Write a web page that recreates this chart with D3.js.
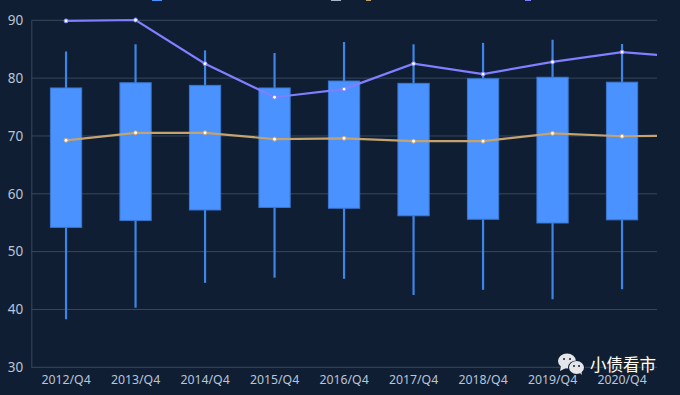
<!DOCTYPE html>
<html>
<head>
<meta charset="utf-8">
<script src="https://cdn.jsdelivr.net/npm/d3@7.9.0/dist/d3.min.js"></script>
<style>
  html, body { margin: 0; padding: 0; background: #0f1e33; }
  svg { display: block; }
  text { font-family: "Noto Sans", sans-serif; }
</style>
</head>
<body>
<div id="chart"></div>
<script>
// last entry is off the right edge, only there so the lines run out of the plot
const quarters = ['2012/Q4', '2013/Q4', '2014/Q4', '2015/Q4', '2016/Q4', '2017/Q4', '2018/Q4', '2019/Q4', '2020/Q4', '2021/Q4'];
const yTicks = [30, 40, 50, 60, 70, 80, 90];

const whiskerHigh = [84.6, 85.85, 84.8, 84.35, 86.25, 85.85, 86.1, 86.65, 85.9];
const boxHigh = [78.3, 79.2, 78.75, 78.3, 79.5, 79.1, 79.9, 80.15, 79.3];
const boxLow = [54.2, 55.4, 57.2, 57.65, 57.5, 56.2, 55.6, 54.95, 55.5];
const whiskerLow = [38.3, 40.3, 44.6, 45.5, 45.3, 42.5, 43.4, 41.75, 43.5];

const purpleLine = [89.9, 90.05, 82.5, 76.7, 78.1, 82.5, 80.7, 82.8, 84.5, 83.55];
const orangeLine = [69.25, 70.55, 70.55, 69.45, 69.6, 69.1, 69.1, 70.45, 69.95, 70.05];

const width = 680;
const height = 395;
const plot = { left: 31.3, right: 657, top: 20.3, bottom: 367.3 };

const svg = d3.select('#chart')
  .append('svg')
  .attr('width', width)
  .attr('height', height);

const xScale = d3.scaleBand()
  .domain(quarters)
  .range([plot.left, plot.left + 695]);

const yScale = d3.scaleLinear()
  .domain([30, 90])
  .range([plot.bottom, plot.top]);

const xMid = (d) => xScale(d) + xScale.bandwidth() / 2;

svg.append('clipPath')
  .attr('id', 'plot-clip')
  .append('rect')
  .attr('x', plot.left)
  .attr('y', 0)
  .attr('width', plot.right - plot.left)
  .attr('height', height);

// gridlines
svg.append('g')
  .selectAll('line')
  .data(yTicks)
  .join('line')
  .attr('x1', plot.left)
  .attr('x2', plot.right)
  .attr('y1', (d) => yScale(d))
  .attr('y2', (d) => yScale(d))
  .attr('stroke', '#3a475c')
  .attr('stroke-width', 1);

// y axis
const yAxis = d3.axisLeft(yScale).tickValues(yTicks).tickSize(0).tickPadding(8);
const yG = svg.append('g')
  .attr('transform', `translate(${plot.left}, 0)`)
  .call(yAxis);
yG.select('.domain').attr('stroke', '#3a475c');
yG.selectAll('text').attr('fill', '#b9c5d9').attr('font-size', 13.5);

// x axis
const xAxis = d3.axisBottom(xScale).tickValues(quarters.slice(0, 9)).tickSize(0).tickPadding(7.5);
const xG = svg.append('g')
  .attr('transform', `translate(0, ${plot.bottom})`)
  .call(xAxis);
xG.select('.domain').remove();
xG.selectAll('text').attr('fill', '#b9c5d9').attr('font-size', 12.3);

// boxes
const boxes = quarters.slice(0, 9).map((q, i) => ({
  q,
  whiskerHigh: whiskerHigh[i],
  boxHigh: boxHigh[i],
  boxLow: boxLow[i],
  whiskerLow: whiskerLow[i],
}));
const boxWidth = xScale.bandwidth() * 0.45;

const boxG = svg.append('g').selectAll('g').data(boxes).join('g');

boxG.append('line')
  .attr('x1', (d) => xMid(d.q))
  .attr('x2', (d) => xMid(d.q))
  .attr('y1', (d) => yScale(d.whiskerHigh))
  .attr('y2', (d) => yScale(d.whiskerLow))
  .attr('stroke', '#3f85e6')
  .attr('stroke-width', 2.2);

boxG.append('rect')
  .attr('x', (d) => xMid(d.q) - boxWidth / 2)
  .attr('width', boxWidth)
  .attr('y', (d) => yScale(d.boxHigh))
  .attr('height', (d) => yScale(d.boxLow) - yScale(d.boxHigh))
  .attr('fill', '#4992ff')
  .attr('stroke', '#3a78d0')
  .attr('stroke-width', 1);

// lines, clipped at the right edge of the plot
const lineGen = d3.line()
  .x((d, i) => xMid(quarters[i]))
  .y((d) => yScale(d));

function drawSeries(values, color) {
  svg.append('path')
    .attr('clip-path', 'url(#plot-clip)')
    .attr('d', lineGen(values))
    .attr('fill', 'none')
    .attr('stroke', color)
    .attr('stroke-width', 2.2);

  svg.append('g')
    .selectAll('circle')
    .data(values.slice(0, 9))
    .join('circle')
    .attr('cx', (d, i) => xMid(quarters[i]))
    .attr('cy', (d) => yScale(d))
    .attr('r', 2)
    .attr('fill', '#ffffff')
    .attr('stroke', color)
    .attr('stroke-width', 1);
}

drawSeries(orangeLine, '#c5a36f');
drawSeries(purpleLine, '#7f7fff');

// legend got cut off at the top of the picture, only the bottom pixel shows
const legendScraps = [
  { x: 152, w: 10, color: '#4992ff' },
  { x: 331, w: 10, color: '#a9b4c8' },
  { x: 366, w: 5, color: '#c5a36f' },
  { x: 525, w: 6, color: '#7f7fff' },
];
svg.append('g')
  .selectAll('rect')
  .data(legendScraps)
  .join('rect')
  .attr('x', (d) => d.x)
  .attr('y', 0)
  .attr('width', (d) => d.w)
  .attr('height', 1)
  .attr('fill', (d) => d.color);

// watermark
const mark = svg.append('g');
mark.append('ellipse').attr('cx', 567).attr('cy', 361).attr('rx', 9).attr('ry', 7.5).attr('fill', '#e4e6ea');
mark.append('path').attr('d', 'M561 366 L560 371 L566 368 Z').attr('fill', '#e4e6ea');
mark.append('ellipse').attr('cx', 576.5).attr('cy', 367.5).attr('rx', 8.5).attr('ry', 7).attr('fill', '#0f1e33');
mark.append('ellipse').attr('cx', 576.5).attr('cy', 367.5).attr('rx', 7.5).attr('ry', 6.5).attr('fill', '#e4e6ea');
mark.append('path').attr('d', 'M579 372 L582 375 L581 370 Z').attr('fill', '#e4e6ea');
[[564, 359], [570, 359], [574, 366], [579, 366]].forEach(([cx, cy]) => {
  mark.append('circle').attr('cx', cx).attr('cy', cy).attr('r', 1).attr('fill', '#0f1e33');
});
mark.append('text')
  .attr('x', 590)
  .attr('y', 371)
  .attr('font-size', 16.5)
  .attr('fill', '#ffffff')
  .style('font-family', '"Noto Sans CJK SC", sans-serif')
  .style('paint-order', 'stroke')
  .style('stroke', 'rgba(40,40,40,0.7)')
  .style('stroke-width', 1.5)
  .text('小债看市');
</script>
</body>
</html>
